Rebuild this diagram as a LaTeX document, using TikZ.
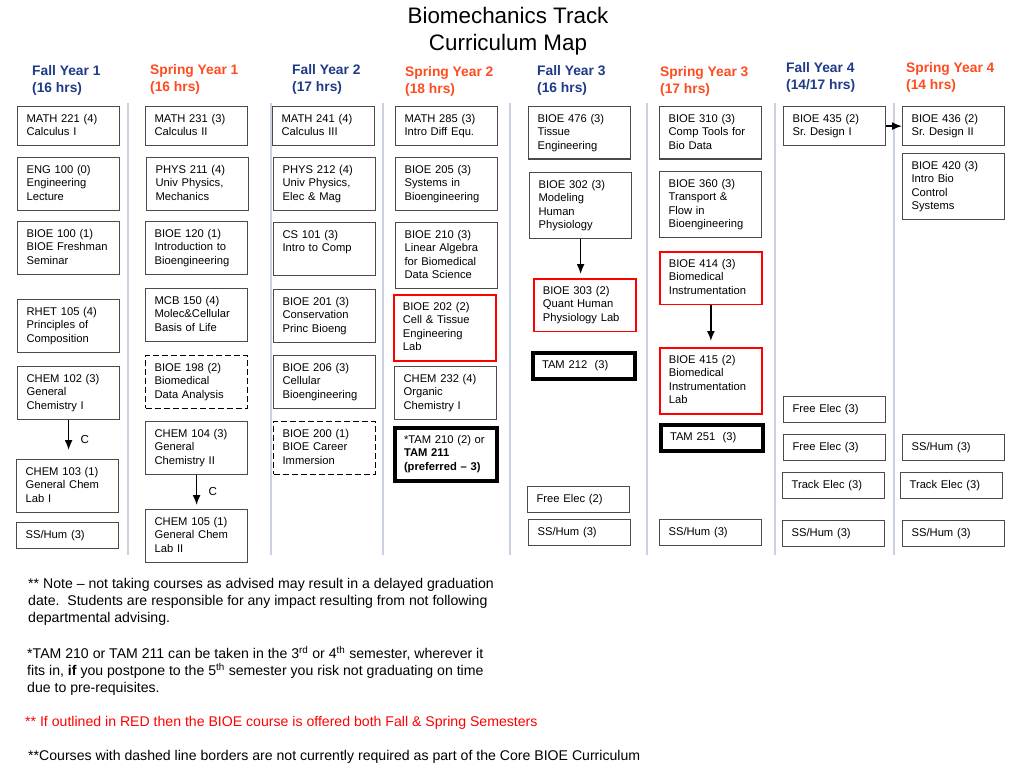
\documentclass[tikz,border=0pt]{standalone}
\usepackage{fontspec}
\setmainfont{Liberation Sans}
\usetikzlibrary{arrows.meta}

\definecolor{fallblue}{HTML}{1F3A86}
\definecolor{springred}{HTML}{FF4B1E}
\definecolor{sepline}{HTML}{C9D1E3}
\definecolor{boxgray}{HTML}{4A4A4A}

\tikzset{
  course/.style={draw=boxgray, line width=1.2pt, anchor=north west, align=left,
    text width=84pt, inner xsep=9pt, inner ysep=6pt,
    font=\fontsize{11.2}{13.5}\selectfont,
    execute at begin node=\strut, execute at end node=\strut},
  redcourse/.style={course, draw=red, line width=1.8pt},
  corecourse/.style={course, draw=black, line width=4pt},
  optcourse/.style={course, draw=black, dash pattern=on 6pt off 3pt},
  semester/.style={anchor=north west, align=left, inner sep=0pt,
    font=\fontsize{13.8}{17}\selectfont\bfseries, execute at begin node=\strut},
  footnote/.style={anchor=north west, align=left, inner sep=0pt,
    font=\fontsize{14.1}{17}\selectfont, execute at begin node=\strut},
  prereq/.style={-{Latex[length=10pt,width=8pt]}, line width=1.5pt}
}

\begin{document}
\begin{tikzpicture}[x=1pt,y=-1pt]
        \useasboundingbox (0,0) rectangle (1020,765);

        % title
        \node[anchor=north, align=center, inner sep=0pt, font=\fontsize{22.4}{27}\selectfont,
              execute at begin node=\strut] (title) at (508,7)
              {Biomechanics Track\\Curriculum Map};

        % column separators
        \foreach \x in {128,271,383,510,647,775,894}
                \draw[sepline, line width=1.2pt] (\x,103) -- (\x,555);

        % semester headings
        \foreach \n/\x/\y/\c/\sem/\hrs in {
            1/32/65/fallblue/Fall Year 1/16 hrs,
            2/150/64/springred/Spring Year 1/16 hrs,
            3/292/64/fallblue/Fall Year 2/17 hrs,
            4/405/66/springred/Spring Year 2/18 hrs,
            5/537/65/fallblue/Fall Year 3/16 hrs,
            6/660/66/springred/Spring Year 3/17 hrs,
            7/786/62/fallblue/Fall Year 4/{14/17 hrs},
            8/906/62/springred/Spring Year 4/14 hrs}
                \node[semester, text=\c] (sem\n) at (\x,\y) {\sem\\(\hrs)};

        % plain courses
        \foreach \name/\x/\y/\txt in {
            math221/17/106/{MATH 221 (4)\\Calculus I},
            eng100/17/157/{ENG 100 (0)\\Engineering\\Lecture},
            bioe100/17/221/{BIOE 100 (1)\\BIOE Freshman\\Seminar},
            rhet105/17/299/{RHET 105 (4)\\Principles of\\Composition},
            chem102/17/366/{CHEM 102 (3)\\General\\Chemistry I},
            chem103/16/459/{CHEM 103 (1)\\General Chem\\Lab I},
            sshumA/16/522/{SS/Hum (3)},
            math231/145/106/{MATH 231 (3)\\Calculus II},
            phys211/146/157/{PHYS 211 (4)\\Univ Physics,\\Mechanics},
            bioe120/145/221/{BIOE 120 (1)\\Introduction to\\Bioengineering},
            mcb150/145/288/{MCB 150 (4)\\Molec\&Cellular\\Basis of Life},
            chem104/145/421/{CHEM 104 (3)\\General\\Chemistry II},
            chem105/145/509/{CHEM 105 (1)\\General Chem\\Lab II},
            math241/272/106/{MATH 241 (4)\\Calculus III},
            phys212/273/157/{PHYS 212 (4)\\Univ Physics,\\Elec \& Mag},
            cs101/273/222/{CS 101 (3)\\Intro to Comp\\},
            bioe201/273/289/{BIOE 201 (3)\\Conservation\\Princ Bioeng},
            bioe206/273/355/{BIOE 206 (3)\\Cellular\\Bioengineering},
            math285/395/106/{MATH 285 (3)\\Intro Diff Equ.},
            bioe205/395/157/{BIOE 205 (3)\\Systems in\\Bioengineering},
            bioe210/395/222/{BIOE 210 (3)\\Linear Algebra\\for Biomedical\\Data Science},
            chem232/394/366/{CHEM 232 (4)\\Organic\\Chemistry I},
            bioe476/528/106/{BIOE 476 (3)\\Tissue\\Engineering},
            bioe302/529/172/{BIOE 302 (3)\\Modeling\\Human\\Physiology},
            freeelecA/527/486/{Free Elec (2)},
            sshumB/528/519/{SS/Hum (3)},
            bioe310/659/106/{BIOE 310 (3)\\Comp Tools for\\Bio Data},
            bioe360/659/171/{BIOE 360 (3)\\Transport \&\\Flow in\\Bioengineering},
            sshumC/659/519/{SS/Hum (3)},
            bioe435/783/106/{BIOE 435 (2)\\Sr.\ Design I},
            freeelecB/783/396/{Free Elec (3)},
            freeelecC/783/434/{Free Elec (3)},
            trackelecA/782/472/{Track Elec (3)},
            sshumD/782/520/{SS/Hum (3)},
            bioe436/902/106/{BIOE 436 (2)\\Sr.\ Design II},
            bioe420/902/153/{BIOE 420 (3)\\Intro Bio\\Control\\Systems},
            sshumE/902/434/{SS/Hum (3)},
            trackelecB/900/472/{Track Elec (3)},
            sshumF/902/520/{SS/Hum (3)}}
                \node[course] (\name) at (\x,\y) {\txt};

        % offered both semesters
        \foreach \name/\x/\y/\txt in {
            bioe202/393/294/{BIOE 202 (2)\\Cell \& Tissue\\Engineering\\Lab},
            bioe303/533/278/{BIOE 303 (2)\\Quant Human\\Physiology Lab},
            bioe414/659/251/{BIOE 414 (3)\\Biomedical\\Instrumentation},
            bioe415/659/347/{BIOE 415 (2)\\Biomedical\\Instrumentation\\Lab}}
                \node[redcourse] (\name) at (\x,\y) {\txt};

        % mechanics core
        \node[corecourse] (tam210) at (393,426)
              {*TAM 210 (2) or\\\textbf{TAM 211}\\\textbf{(preferred -- 3)}};
        \node[corecourse] (tam212) at (531,351) {TAM 212\ \ (3)};
        \node[corecourse] (tam251) at (659,423) {TAM 251\ \ (3)};

        % not required
        \node[optcourse] (bioe198) at (145,355) {BIOE 198 (2)\\Biomedical\\Data Analysis};
        \node[optcourse] (bioe200) at (273,421) {BIOE 200 (1)\\BIOE Career\\Immersion};

        % prerequisites
        \draw[prereq, shorten >=9pt] (chem102.south) -- node[right=8pt, font=\fontsize{11.6}{14}\selectfont] {C}
              (chem102.south |- chem103.north);
        \draw[prereq, shorten >=4pt] (chem104.south) -- node[right=8pt, font=\fontsize{11.6}{14}\selectfont] {C}
              (chem104.south |- chem105.north);
        \draw[prereq, shorten >=4pt] (bioe302.south) -- (bioe302.south |- bioe303.north);
        \draw[prereq, shorten >=6pt] (bioe414.south) -- (bioe415.north);
        \draw[prereq] (bioe435.east) -- (bioe436.west);

        % notes
        \node[footnote] (note) at (28,578)
              {** Note -- not taking courses as advised may result in a delayed graduation\\
               date.\ \ Students are responsible for any impact resulting from not following\\
               departmental advising.};
        \node[footnote] (tamnote) at (27,646)
              {*TAM 210 or TAM 211 can be taken in the 3\textsuperscript{rd} or 4\textsuperscript{th} semester, wherever it\\
               fits in, \textbf{if} you postpone to the 5\textsuperscript{th} semester you risk not graduating on time\\
               due to pre-requisites.};
        \node[footnote, text=red] (rednote) at (25,714)
              {** If outlined in RED then the BIOE course is offered both Fall \& Spring Semesters};
        \node[footnote] (dashnote) at (28,748)
              {**Courses with dashed line borders are not currently required as part of the Core BIOE Curriculum};
\end{tikzpicture}
\end{document}
